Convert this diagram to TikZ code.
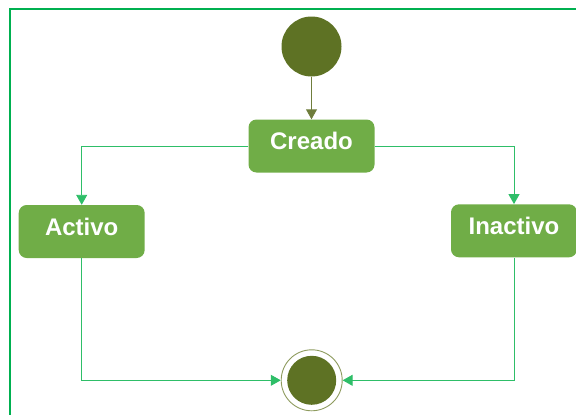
\documentclass[tikz,border=0pt]{standalone}
\usepackage{fontspec}
\setmainfont{Liberation Sans}
\usetikzlibrary{arrows.meta}
\definecolor{framegreen}{HTML}{00B050}
\definecolor{linkgreen}{HTML}{2EBE68}
\definecolor{statefill}{HTML}{70AD47}
\definecolor{olivedark}{HTML}{5E7224}
\definecolor{olivegrey}{HTML}{6F7D3C}
\definecolor{ringgrey}{HTML}{8E9B5E}
\tikzset{
  statebox/.style={draw=none, fill=statefill, rounded corners=8pt,
    minimum width=126pt, minimum height=53pt, inner sep=0pt,
    text height=17pt, text depth=10pt,
    text=white, font=\bfseries\fontsize{24}{28}\selectfont},
  startdot/.style={circle, fill=olivedark, minimum size=60pt, inner sep=0pt},
  endring/.style={circle, draw=ringgrey, line width=0.9pt, fill=white, minimum size=61pt, inner sep=0pt},
  enddot/.style={circle, fill=olivedark, minimum size=49pt, inner sep=0pt},
  link/.style={draw=linkgreen, line width=0.9pt, -{Triangle[length=10pt,width=11pt]}},
  initlink/.style={draw=olivegrey, line width=0.9pt, -{Triangle[length=10pt,width=11pt]}},
}
\begin{document}
\begin{tikzpicture}[x=1pt, y=-1pt]
  \useasboundingbox (0,0) rectangle (576,415);
  % frame edges
  \draw[framegreen, line width=2pt] (9.5,416) -- (9.5,8.5) -- (577,8.5);

  % states
  \node[startdot] (start) at (311.5,46.5) {};
  \node[statebox] (creado) at (311.5,146) {Creado};
  \node[statebox] (activo) at (81.7,231.5) {Activo};
  \node[statebox] (inactivo) at (514,230.8) {Inactivo};
  \node[endring] (fin) at (311.7,380.3) {};
  \node[enddot] (findot) at (fin.center) {};

  % transitions
  \draw[initlink] (start.south) -- (creado.north);
  \draw[link] (creado.west) -| (activo.north);
  \draw[link] (creado.east) -| (inactivo.north);
  \draw[link] (activo.south) |- (fin.west);
  \draw[link] (inactivo.south) |- (fin.east);
\end{tikzpicture}
\end{document}
